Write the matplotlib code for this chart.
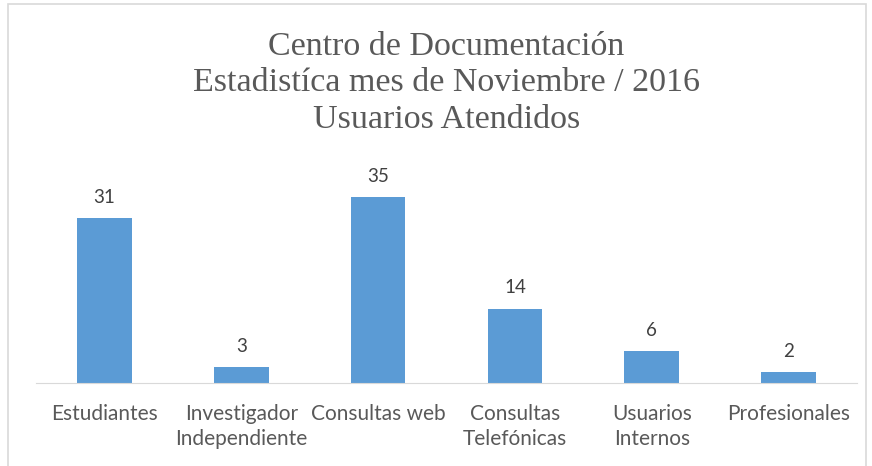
import matplotlib.pyplot as plt
from matplotlib.patches import Rectangle

categorias = ["Estudiantes", "Investigador\nIndependiente", "Consultas web",
              "Consultas\nTelefónicas", "Usuarios\nInternos", "Profesionales"]
usuarios = [31, 3, 35, 14, 6, 2]

gris = "#595959"
azul = "#5b9bd5"

fig = plt.figure(figsize=(8.72, 4.66), dpi=100)
fig.patches.append(Rectangle((8 / 872, -0.05), 858 / 872, 1 - 4 / 466 + 0.05,
                             transform=fig.transFigure, fill=False,
                             edgecolor="#d9d9d9", linewidth=1.2))

ax = fig.add_axes([36 / 872, 1 - 383 / 466, 821 / 872, 213 / 466])
x = range(len(categorias))
bars = ax.bar(x, usuarios, width=0.4, color=azul)
ax.set_xlim(-0.5, len(categorias) - 0.5)
ax.set_ylim(0, 213 / 5.31)

for b, v in zip(bars, usuarios):
    ax.annotate(str(v), (b.get_x() + b.get_width() / 2, v), xytext=(0, 9),
                textcoords="offset points", ha="center", va="bottom",
                fontsize=13.5, color="#404040", family="Lato")

ax.set_xticks(list(x))
ax.set_xticklabels(categorias, fontsize=15, color=gris, family="Lato",
                   linespacing=1.3)
ax.tick_params(axis="x", length=0, pad=15)
ax.set_yticks([])
for s in ["top", "right", "left"]:
    ax.spines[s].set_visible(False)
ax.spines["bottom"].set_color("#d9d9d9")

fig.text(0.512, 1 - 83 / 466,
         "Centro de Documentación\nEstadistíca mes de Noviembre / 2016\nUsuarios Atendidos",
         ha="center", va="center", fontsize=24.5, color=gris,
         family="Liberation Serif", linespacing=1.25)

fig.savefig("out.png", dpi=100)
